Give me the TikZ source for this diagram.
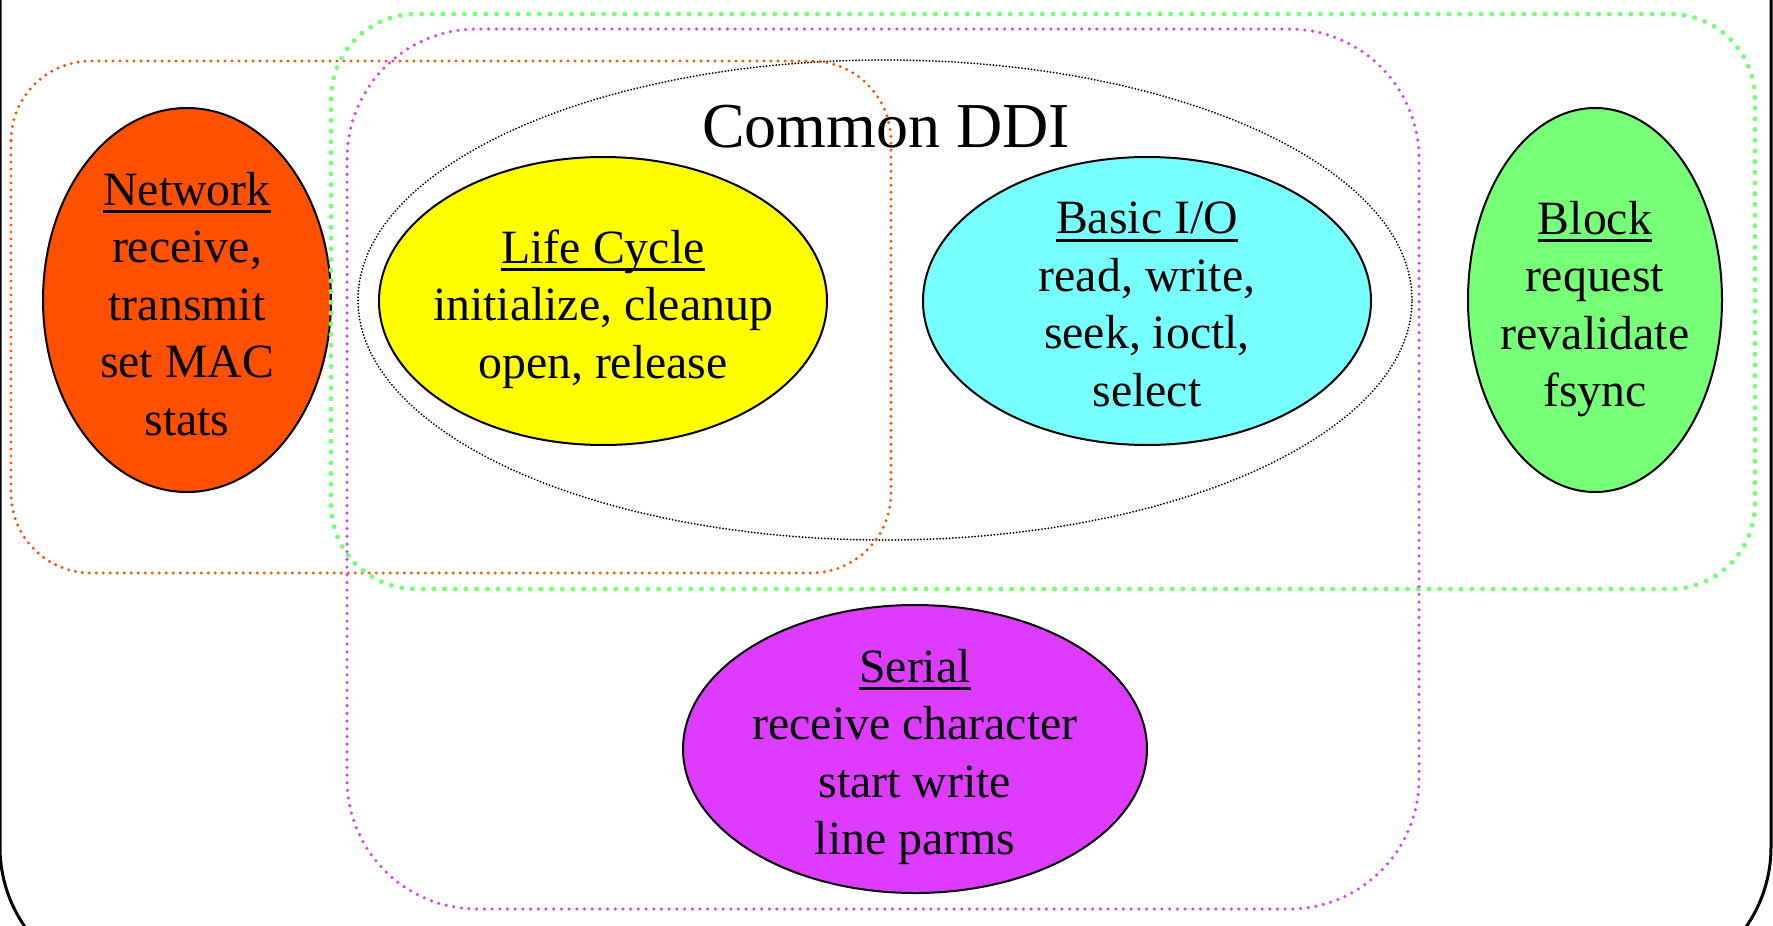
\documentclass[tikz,border=0pt]{standalone}
\usepackage{fontspec}
\setmainfont{Liberation Serif}
\usepackage{xcolor}
\usepackage{tikz}
\usetikzlibrary{shapes.geometric}

\definecolor{netred}{RGB}{255,80,0}
\definecolor{lifeyellow}{RGB}{255,255,0}
\definecolor{iocyan}{RGB}{119,255,255}
\definecolor{blockgreen}{RGB}{119,255,119}
\definecolor{serialpurple}{RGB}{221,60,255}

\newsavebox{\hdbox}
\newcommand{\hd}[1]{\sbox{\hdbox}{#1}\rlap{\rule[-8pt]{\wd\hdbox}{3pt}}\usebox{\hdbox}}

\begin{document}
\begin{tikzpicture}[
      x=1pt, y=-1pt,
      blob/.style={
         ellipse,
         draw=black,
         line width=2pt,
         inner sep=0pt},
      blobtext/.style={
         align=center,
         inner sep=0pt,
         font=\fontsize{47.8pt}{57.5pt}\selectfont},
      ddiring/.style={draw=black, line width=2pt, dash pattern=on 0pt off 3.2pt, line cap=round},
      netdots/.style={draw=netred, line width=3.3pt, dash pattern=on 0pt off 7pt, line cap=round},
      blockdots/.style={draw=blockgreen, line width=5pt, dash pattern=on 0pt off 10.7pt, line cap=round},
      serialdots/.style={draw=serialpurple, line width=3.5pt, dash pattern=on 0pt off 7.7pt, line cap=round},
      frame/.style={draw=black, line width=3pt}
      ]
      \useasboundingbox (0,0) rectangle (1773,926);
      \draw[frame, rounded corners=140pt] (0,-300) rectangle (1771,987);

      \node[ellipse, ddiring, minimum width=1054pt, minimum height=480pt] (ddi) at (885,300) {};
      \node[font=\fontsize{64pt}{77pt}\selectfont, anchor=base] (dditxt) at (886,147) {Common DDI};

    \foreach \nm/\px/\py/\ew/\eh/\col in {% name/x/y/width/height/fill
      net/187/300/288/384/netred,
      life/603/301/448/288/lifeyellow,
      bio/1147/301/448/288/iocyan,
      block/1595/300/254/384/blockgreen,
      serial/915/749/464/288/serialpurple}
       \node[blob, fill=\col, minimum width=\ew pt, minimum height=\eh pt] (\nm) at (\px,\py) {};

      \node[blobtext, yshift=-4pt] (net-txt) at (net) {\hd{Network}\\receive,\\transmit\\set MAC\\stats};
      \node[blobtext, yshift=-8pt] (life-txt) at (life) {\hd{Life Cycle}\\initialize, cleanup\\open, release};
      \node[blobtext, yshift=-3.5pt] (bio-txt) at (bio) {\hd{Basic I/O}\\read, write,\\seek, ioctl,\\select};
      \node[blobtext, yshift=-9pt] (block-txt) at (block) {\hd{Block}\\request\\revalidate\\fsync};
      \node[blobtext, yshift=-8pt] (serial-txt) at (serial) {\hd{Serial}\\receive character\\start write\\line parms};

      \draw[netdots, rounded corners=80pt] (11,61) rectangle (891,573);
      \draw[blockdots, rounded corners=85pt] (331,14) rectangle (1755,589);
      \draw[serialdots, rounded corners=130pt] (347,29) rectangle (1419,909);

    \end{tikzpicture}
\end{document}
